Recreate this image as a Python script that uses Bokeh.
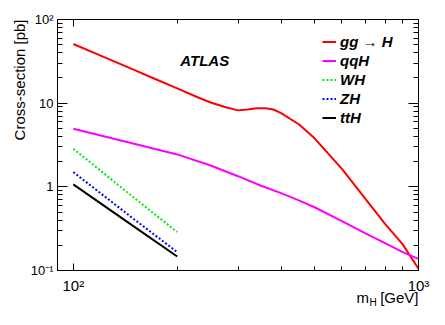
import math
from bokeh.plotting import figure
from bokeh.models import (Range1d, LogAxis, FixedTicker, Legend, LegendItem,
                          Label, Title, CustomJSTickFormatter)
from bokeh.embed import file_html
from bokeh.resources import INLINE

# ---- data ----
mass_ggh = [100, 120, 150, 170, 200, 230, 250, 275, 300, 320, 340, 360, 380,
            400, 450, 500, 600, 700, 800, 900, 1000]
xs_ggh = [51, 37, 25, 20, 15, 11.7, 10.2, 9.0, 8.2, 8.4, 8.7, 8.7, 8.4,
          7.6, 5.6, 3.8, 1.64, 0.73, 0.36, 0.205, 0.105]

mass_qqh = [100, 150, 200, 250, 300, 350, 400, 450, 500, 600, 700, 800, 900, 1000]
xs_qqh = [4.94, 3.27, 2.44, 1.80, 1.34, 1.03, 0.84, 0.69, 0.57, 0.39, 0.28,
          0.213, 0.166, 0.138]

mass_vh = [100, 150, 200]
xs_wh = [2.85, 0.74, 0.288]
xs_zh = [1.50, 0.41, 0.166]
xs_tth = [1.07, 0.335, 0.147]

series_names = ["gg \u2192 H", "qqH", "WH", "ZH", "ttH"]

x_major = [100, 1000]
x_minor = [90, 200, 300, 400, 500, 600, 700, 800, 900]
x_labels = {100: "10\u00b2", 1000: "10\u00b3"}
y_major = [0.1, 1, 10, 100]
y_minor = [0.2, 0.3, 0.4, 0.5, 0.6, 0.7, 0.8, 0.9, 2, 3, 4, 5, 6, 7, 8, 9,
           20, 30, 40, 50, 60, 70, 80, 90]
y_labels = {0.1: "10\u207b\u00b9", 1: "1", 10: "10", 100: "10\u00b2"}

FONT = "Liberation Sans"
W, H = 445, 325

p = figure(width=W, height=H, x_axis_type="log", y_axis_type="log",
           x_range=Range1d(90, 1000), y_range=Range1d(0.1, 100),
           output_backend="svg", toolbar_location=None,
           min_border_left=57, min_border_right=27, min_border_top=19,
           min_border_bottom=55)
p.xgrid.visible = False
p.ygrid.visible = False
p.outline_line_color = "black"
p.outline_line_width = 1
p.background_fill_color = "white"
p.border_fill_color = "white"

xt = FixedTicker(ticks=x_major, minor_ticks=x_minor)
yt = FixedTicker(ticks=y_major, minor_ticks=y_minor)

def style_axis(ax, is_x, labels):
    ax.axis_line_color = "black"
    ax.axis_line_width = 1
    ax.major_tick_line_color = "black"
    ax.minor_tick_line_color = "black"
    ax.major_tick_out = 0
    ax.minor_tick_out = 0
    if is_x:
        ax.major_tick_in = 7
        ax.minor_tick_in = 4
    else:
        ax.major_tick_in = 10
        ax.minor_tick_in = 5
    if labels:
        ax.major_label_text_font = FONT
        ax.major_label_text_color = "black"
    else:
        ax.formatter = CustomJSTickFormatter(code="return ''")

xa = p.xaxis[0]
xa.ticker = xt
style_axis(xa, True, True)
xa.major_label_overrides = x_labels
xa.major_label_text_font_size = "15px"
xa.major_label_standoff = 6

ya = p.yaxis[0]
ya.ticker = yt
style_axis(ya, False, True)
ya.major_label_overrides = y_labels
ya.major_label_text_font_size = "13px"
ya.major_label_standoff = 4

top = LogAxis(ticker=FixedTicker(ticks=x_major, minor_ticks=x_minor))
style_axis(top, True, False)
p.add_layout(top, "above")
right = LogAxis(ticker=FixedTicker(ticks=y_major, minor_ticks=y_minor))
style_axis(right, False, False)
p.add_layout(right, "right")

# y-axis title, top-aligned like ROOT
p.add_layout(Title(text="Cross-section [pb]", align="right", text_font=FONT,
                   text_font_size="15px", text_font_style="normal",
                   text_color="black", standoff=0, offset=0), "left")

# x-axis title  m_H [GeV]  (three pieces, pulled up next to the tick labels)
def xtitle(txt, size, align, offset, standoff):
    return Title(text=txt, align=align, offset=offset, standoff=standoff,
                 text_font=FONT, text_font_size=size, text_font_style="normal",
                 text_color="black")

p.add_layout(xtitle("[GeV]", "15px", "right", 0, -19), "below")
p.add_layout(xtitle("m", "15px", "left", 299, -19), "below")
p.add_layout(xtitle("H", "10px", "left", 312, -4), "below")

r1 = p.line(mass_ggh, xs_ggh, line_color="#ff0000", line_width=2)
r2 = p.line(mass_qqh, xs_qqh, line_color="#ff00ff", line_width=2)
r3 = p.line(mass_vh, xs_wh, line_color="#00ee00", line_width=2, line_dash="2 2")
r4 = p.line(mass_vh, xs_zh, line_color="#0000ff", line_width=2, line_dash="2 2")
r5 = p.line(mass_vh, xs_tth, line_color="black", line_width=2)

legend = Legend(items=[LegendItem(label=n, renderers=[r]) for n, r in
                       zip(series_names, [r1, r2, r3, r4, r5])],
                location=(265, 144), border_line_color=None,
                background_fill_alpha=0, padding=0, margin=0,
                glyph_width=14, glyph_height=17, label_height=17, spacing=2,
                label_standoff=4, label_text_font=FONT,
                label_text_font_style="bold italic",
                label_text_font_size="15px", label_text_color="black")
p.add_layout(legend)

p.add_layout(Label(x=100, y=100, x_offset=107, y_offset=-41, text="ATLAS",
                   text_font=FONT, text_font_style="bold italic",
                   text_font_size="15px", text_baseline="alphabetic",
                   text_color="black"))

open("out.html", "w").write(file_html(p, INLINE))
